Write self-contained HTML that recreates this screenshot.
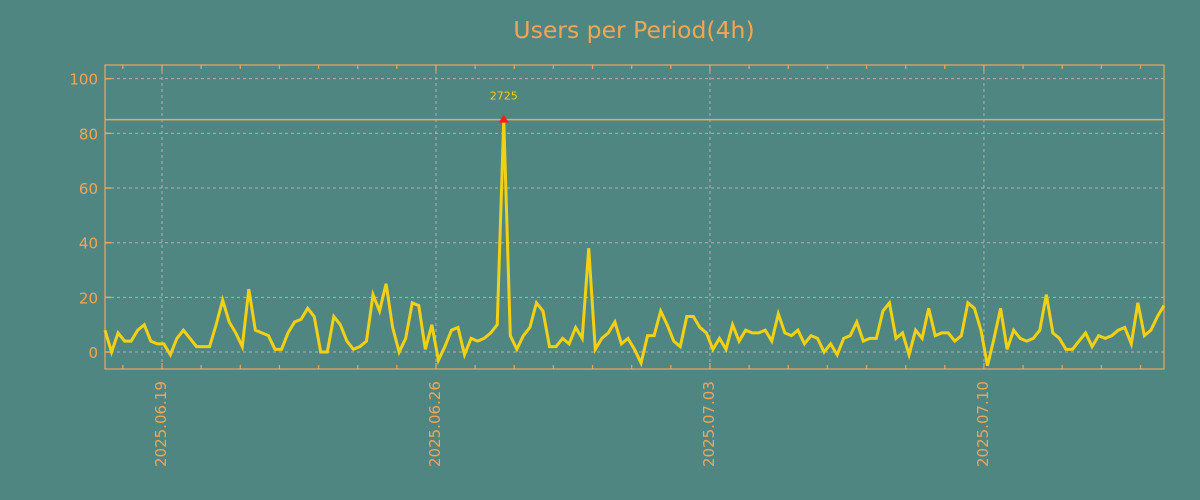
<!DOCTYPE html>
<html><head><meta charset="utf-8"><style>
body{margin:0;background:#4f8682;}
svg{display:block;font-family:"DejaVu Sans","Liberation Sans",sans-serif;}
</style></head><body>
<svg id="chart" width="1200" height="500">
<rect width="1200" height="500" fill="#4f8682"/>
<text x="634" y="38" text-anchor="middle" font-size="23.5" fill="#f4a556">Users per Period(4h)</text>
<g id="grid"></g><g id="axes"></g><g id="series"></g>
</svg>
<script>
const values=[8,0,7,4,4,8,10,4,3,3,-1,5,8,5,2,2,2,10,19,11,7,2,23,8,7,6,1,1,7,11,12,16,13,0,0,13,10,4,1,2,4,21,15,25,9,0,5,18,17,1,10,-3,2,8,9,-1,5,4,5,7,10,85,6,1,6,9,18,15,2,2,5,3,9,5,38,1,5,7,11,3,5,1,-4,6,6,15,10,4,2,13,13,9,7,1,5,1,10,4,8,7,7,8,4,14,7,6,8,3,6,5,0,3,-1,5,6,11,4,5,5,15,18,5,7,-1,8,5,16,6,7,7,4,6,18,16,8,-5,5,16,1,8,5,4,5,8,21,7,5,1,1,4,7,2,6,5,6,8,9,3,18,6,8,13,17];
const yTicks=[0,20,40,60,80,100];
const xTickLabels=["2025.06.19","2025.06.26","2025.07.03","2025.07.10"];
const xTickDayIdx=[0,7,14,21];
const peakLabel="2725";
const refLine=85;
const L=105,R=1164,T=65,B=369,yMin=-6.2,yMax=105;
const firstDayX=162,dayW=39.14;
const NS="http://www.w3.org/2000/svg";
const gG=document.getElementById('grid'),gA=document.getElementById('axes'),gS=document.getElementById('series');
function y(v){return B-(v-yMin)/(yMax-yMin)*(B-T);}
function x(i){return L+i*(R-L)/(values.length-1);}
function dx(d){return firstDayX+d*dayW;}
function mk(t,a,p){const e=document.createElementNS(NS,t);for(const k in a)e.setAttribute(k,a[k]);p.appendChild(e);return e;}
const C="#f4a556";
yTicks.forEach(v=>{
 const l=mk('line',{x1:L,x2:R,y1:y(v),y2:y(v),stroke:'#b0b0b0','stroke-dasharray':'3,3','stroke-width':1},gG);
 
 
 const tk=mk('line',{x1:L,x2:L+6,y1:y(v),y2:y(v),stroke:C,'stroke-width':1.5},gA);
 
 
 const t=mk('text',{x:L-7,y:y(v)+6,'text-anchor':'end','font-size':15,fill:C},gA);
 t.textContent=v;
 
 
});
for(let d=-1;d<27;d++){const X=dx(d);if(X<L||X>R)continue;
 const major=xTickDayIdx.includes(d);
 const a=mk('line',{x1:X,x2:X,y1:B,y2:B-(major?6:4),stroke:C,'stroke-width':1.2},gA);
 
 
 const b=mk('line',{x1:X,x2:X,y1:T,y2:T+(major?6:4),stroke:C,'stroke-width':1.2},gA);
 
 
}
xTickDayIdx.forEach((d,i)=>{const X=dx(d);
 const l=mk('line',{x1:X,x2:X,y1:T,y2:B,stroke:'#b0b0b0','stroke-dasharray':'3,3','stroke-width':1},gG);
 
 
 const t=mk('text',{x:0,y:0,transform:`translate(${X+4},467) rotate(-90)`,'font-size':15,fill:C},gA);
 t.textContent=xTickLabels[i];
 
 
});
const fr=mk('rect',{x:L,y:T,width:R-L,height:B-T,fill:'none',stroke:C,'stroke-width':1.2},gA);


const rl=mk('line',{x1:L,x2:R,y1:y(refLine),y2:y(refLine),stroke:C,'stroke-width':1.5},gS);


const p=mk('polyline',{points:values.map((v,i)=>x(i)+','+y(v)).join(' '),fill:'none',stroke:'#f2d014','stroke-width':3,'stroke-linejoin':'miter'},gS);


let mi=0;values.forEach((v,i)=>{if(v>values[mi])mi=i;});
const px=x(mi),py=y(values[mi]);
const m=mk('path',{d:`M${px-5},${py+3} L${px+5},${py+3} L${px},${py-5} Z`,fill:'#ff1a1a'},gS);


const pl=mk('text',{x:px,y:py-20,'text-anchor':'middle','font-size':11,fill:'#f2d014'},gS);
pl.textContent=peakLabel;


</script>
</body></html>
